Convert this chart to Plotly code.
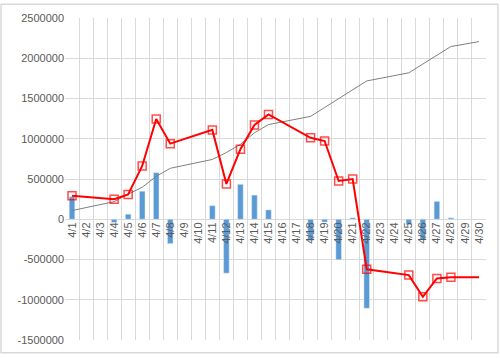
import plotly.graph_objects as go

dates = [f"4/{d}" for d in range(1, 31)]

bar_values = [280000, None, None, -40000, 63000, 348000, 580000, -303000, None, None,
              169000, -670000, 434000, 300000, 116000, None, None, -265000, -35000, -503000,
              18000, -1106000, None, None, -67000, -255000, 222000, 18000, None, None]

red_values = [291000, None, None, 250000, 308000, 662000, 1245000, 939000, None, None,
              1110000, 438000, 870000, 1171000, 1302000, None, None, 1012000, 972000, 475000,
              499000, -621000, None, None, -694000, -963000, -736000, -719000, -719000, -719000]
red_marker_shown = [d is not None for d in red_values[:28]] + [False, False]

gray_values = [108000, None, None, 218000, 312000, 397000, 532000, 633000, None, None,
               743000, 829000, 931000, 1073000, 1176000, None, None, 1278000, 1388000, 1498000,
               1608000, 1718000, None, None, 1819000, 1928000, 2037000, 2146000, 2176000, 2207000]

y_ticks = [-1500000, -1000000, -500000, 0, 500000, 1000000, 1500000, 2000000, 2500000]

fig = go.Figure()
fig.add_trace(go.Bar(x=dates, y=bar_values, marker_color="#5B9BD5", width=0.4,
                     showlegend=False))
fig.add_trace(go.Scatter(x=dates, y=gray_values, mode="lines", connectgaps=True,
                         line=dict(color="#7F7F7F", width=1), showlegend=False))
fig.add_trace(go.Scatter(x=dates, y=red_values, mode="lines+markers", connectgaps=True,
                         line=dict(color="#FF0000", width=2),
                         marker=dict(symbol="square-open", size=[8 if s else 0 for s in red_marker_shown],
                                     color="#FF0000", line=dict(width=1.5, color="#FF0000")),
                         showlegend=False))

font = dict(family="Liberation Sans, Arial, sans-serif", size=11, color="#595959")

fig.update_layout(
    width=500, height=358,
    margin=dict(l=65, r=14, t=15, b=16),
    paper_bgcolor="white", plot_bgcolor="white",
    font=font,
    bargap=0.6,
    xaxis=dict(type="category", categoryorder="array", categoryarray=dates,
               tickson="boundaries", showgrid=True, gridcolor="#D9D9D9", gridwidth=1,
               ticks="", tickangle=-90, anchor="free", position=0.375,
               showline=False, zeroline=False, tickfont=font, range=[-0.5, 29.5]),
    yaxis=dict(range=[-1500000, 2500000], tickvals=y_ticks,
               ticktext=[str(v) for v in y_ticks], showgrid=True, gridcolor="#D9D9D9",
               gridwidth=1, zeroline=False, showline=False, ticks="", tickfont=font),
    shapes=[dict(type="rect", xref="paper", yref="paper",
                 x0=-0.152, x1=1.0285, y0=-0.0398, y1=1.0428,
                 line=dict(color="#D9D9D9", width=1.5), fillcolor="rgba(0,0,0,0)",
                 layer="below")],
)

fig.write_html("out.html")
